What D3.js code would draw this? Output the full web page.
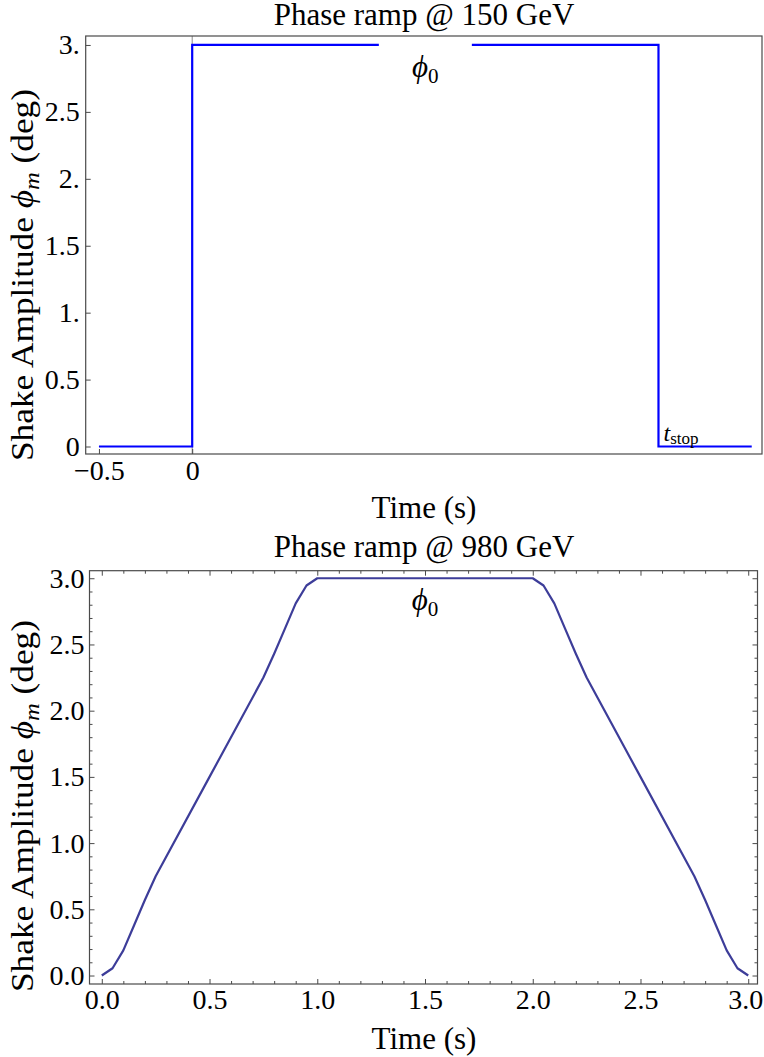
<!DOCTYPE html>
<html>
<head>
<meta charset="utf-8">
<script src="https://cdn.jsdelivr.net/npm/d3@7"></script>
<style>
  body { margin: 0; background: #fff; }
  svg text { font-family: "Liberation Serif", "Times New Roman", serif; fill: #000; }
</style>
</head>
<body>
<div id="chart"></div>
<script>
// top panel: step ramp at 150 GeV
const topTime  = [-0.5, 0, 0, 2.5, 2.5, 3.0];
const topPhase = [0, 0, 3, 3, 0, 0];
const topYTicks  = [0, 0.5, 1, 1.5, 2, 2.5, 3];
const topYLabels = ['0', '0.5', '1.', '1.5', '2.', '2.5', '3.'];
const topXTicks  = [-0.5, 0];
const topXLabels = ['\u22120.5', '0'];

// bottom panel: smooth ramp at 980 GeV
const botTime  = [0, 0.05, 0.1, 0.15, 0.2, 0.25, 0.5, 0.75, 0.8, 0.85, 0.9, 0.95, 1.0,
                  2.0, 2.05, 2.1, 2.15, 2.2, 2.25, 2.5, 2.75, 2.8, 2.85, 2.9, 2.95, 3.0];
const botPhase = [0, 0.055, 0.19, 0.38, 0.57, 0.75, 1.5, 2.25, 2.43, 2.62, 2.81, 2.945, 3.0,
                  3.0, 2.945, 2.81, 2.62, 2.43, 2.25, 1.5, 0.75, 0.57, 0.38, 0.19, 0.055, 0];
const botMajor  = [0, 0.5, 1, 1.5, 2, 2.5, 3];
const botLabels = ['0.0', '0.5', '1.0', '1.5', '2.0', '2.5', '3.0'];
const botMinor  = [0.1, 0.2, 0.3, 0.4, 0.6, 0.7, 0.8, 0.9, 1.1, 1.2, 1.3, 1.4, 1.6, 1.7, 1.8, 1.9,
                   2.1, 2.2, 2.3, 2.4, 2.6, 2.7, 2.8, 2.9];

const width = 764, height = 1057;
const fs = 31;      // titles and labels
const tickFs = 28;  // tick numbers

const svg = d3.select('#chart').append('svg')
    .attr('width', width)
    .attr('height', height);

const frameColor = '#4a4a4a';

function frame(g, x0, x1, y0, y1) {
  g.append('rect')
    .attr('x', x0).attr('y', y0)
    .attr('width', x1 - x0).attr('height', y1 - y0)
    .attr('fill', 'none')
    .attr('stroke', frameColor)
    .attr('stroke-width', 1.2);
}

function styleAxis(g) {
  g.select('.domain').remove();
  g.selectAll('line').attr('stroke', frameColor).attr('stroke-width', 1);
  g.selectAll('text')
    .style('font-size', tickFs + 'px')
    .style('font-family', '"Liberation Serif", serif')
    .attr('fill', '#000');
}

function yTitle(g, cx, cy) {
  const t = g.append('text')
      .attr('transform', 'translate(' + cx + ',' + cy + ') rotate(-90)')
      .attr('text-anchor', 'middle')
      .attr('textLength', 372)
      .attr('lengthAdjust', 'spacingAndGlyphs')
      .style('font-size', fs + 'px');
  t.append('tspan').text('Shake Amplitude ');
  t.append('tspan').style('font-style', 'italic').text('\u03d5');
  t.append('tspan').style('font-style', 'italic').style('font-size', (fs * 0.7) + 'px')
    .attr('dy', 6).text('m');
  t.append('tspan').attr('dy', -6).text(' (deg)');
}

function phiLabel(g, x, y) {
  const t = g.append('text')
      .attr('x', x).attr('y', y)
      .attr('text-anchor', 'middle')
      .style('font-size', fs + 'px');
  t.append('tspan').style('font-style', 'italic').text('\u03d5');
  t.append('tspan').style('font-size', (fs * 0.68) + 'px').attr('dy', 6).text('0');
  return t;
}

// ---------- top panel ----------
const x1 = d3.scaleLinear().domain([-0.571, 3.055]).range([85.7, 762]);
const y1 = d3.scaleLinear().domain([-0.056, 3.067]).range([454, 36]);

const gTop = svg.append('g');

// axis line at t = 0
gTop.append('line')
    .attr('x1', x1(0)).attr('x2', x1(0))
    .attr('y1', y1.range()[1]).attr('y2', y1.range()[0])
    .attr('stroke', '#8a8a8a')
    .attr('stroke-width', 1);

const topLine = d3.line()
    .x(function(d, i) { return x1(topTime[i]); })
    .y(function(d) { return y1(d); });

gTop.append('path')
    .datum(topPhase)
    .attr('fill', 'none')
    .attr('stroke', '#0000ff')
    .attr('stroke-width', 2.2)
    .attr('d', topLine);

// phi_0 label with white box over the line
const phiTop = phiLabel(gTop, x1(1.25), y1(2.76));
gTop.insert('rect', function() { return phiTop.node(); })
    .attr('x', x1(1.25) - 46.5).attr('y', y1(3.0) - 8)
    .attr('width', 93).attr('height', 48)
    .attr('fill', '#fff');

// t_stop label
const ts = gTop.append('text')
    .attr('x', x1(2.5) + 5).attr('y', y1(0) - 6)
    .style('font-size', '24px');
ts.append('tspan').style('font-style', 'italic').text('t');
ts.append('tspan').style('font-size', '17px').attr('dy', 3).text('stop');

gTop.append('g')
    .attr('transform', 'translate(' + x1.range()[0] + ',0)')
    .call(d3.axisLeft(y1).tickValues(topYTicks).tickSizeInner(-5).tickSizeOuter(0)
      .tickPadding(6)
      .tickFormat(function(d, i) { return topYLabels[i]; }))
    .call(styleAxis);

gTop.append('g')
    .attr('transform', 'translate(0,' + y1.range()[0] + ')')
    .call(d3.axisBottom(x1).tickValues(topXTicks).tickSizeInner(-5).tickSizeOuter(0)
      .tickPadding(6)
      .tickFormat(function(d, i) { return topXLabels[i]; }))
    .call(styleAxis);

frame(gTop, 85.7, 762, 36, 454);

gTop.append('text')
    .attr('x', 424).attr('y', 25)
    .attr('text-anchor', 'middle')
    .style('font-size', fs + 'px')
    .text('Phase ramp @ 150 GeV');

gTop.append('text')
    .attr('x', 424).attr('y', 518)
    .attr('text-anchor', 'middle')
    .style('font-size', fs + 'px')
    .text('Time (s)');

yTitle(gTop, 33, 275);

// ---------- bottom panel ----------
const x2 = d3.scaleLinear().domain([-0.057, 3.043]).range([89.5, 757.5]);
const y2 = d3.scaleLinear().domain([-0.064, 3.057]).range([984, 570.7]);

const gBot = svg.append('g');

const botLine = d3.line()
    .x(function(d, i) { return x2(botTime[i]); })
    .y(function(d) { return y2(d); });

gBot.append('path')
    .datum(botPhase)
    .attr('fill', 'none')
    .attr('stroke', '#3d3d99')
    .attr('stroke-width', 2.2)
    .attr('stroke-linejoin', 'round')
    .attr('d', botLine);

phiLabel(gBot, x2(1.5), y2(2.76));

// major + minor ticks on all four sides
const sides = [
  { mk: function() { return d3.axisBottom(x2); }, tr: 'translate(0,984)', lab: true },
  { mk: function() { return d3.axisTop(x2); },    tr: 'translate(0,570.7)', lab: false },
  { mk: function() { return d3.axisLeft(y2); },   tr: 'translate(89.5,0)', lab: true },
  { mk: function() { return d3.axisRight(y2); },  tr: 'translate(757.5,0)', lab: false }
];

sides.forEach(function(s) {
  gBot.append('g')
      .attr('transform', s.tr)
      .call(s.mk().tickValues(botMinor).tickSizeInner(-3).tickSizeOuter(0).tickFormat(''))
      .call(styleAxis);
  gBot.append('g')
      .attr('transform', s.tr)
      .call(s.mk().tickValues(botMajor).tickSizeInner(-5).tickSizeOuter(0)
        .tickPadding(5)
        .tickFormat(function(d, i) { return s.lab ? botLabels[i] : ''; }))
      .call(styleAxis);
});

// keep the last x label inside the page
gBot.selectAll('.tick text')
    .filter(function(d) { return d === 3 && this.textContent === '3.0' && +this.getAttribute('y') > 0; })
    .attr('dx', -3);

frame(gBot, 89.5, 757.5, 570.7, 984);

gBot.append('text')
    .attr('x', 424).attr('y', 557)
    .attr('text-anchor', 'middle')
    .style('font-size', fs + 'px')
    .text('Phase ramp @ 980 GeV');

gBot.append('text')
    .attr('x', 424).attr('y', 1049)
    .attr('text-anchor', 'middle')
    .style('font-size', fs + 'px')
    .text('Time (s)');

yTitle(gBot, 33, 806);
</script>
</body>
</html>
